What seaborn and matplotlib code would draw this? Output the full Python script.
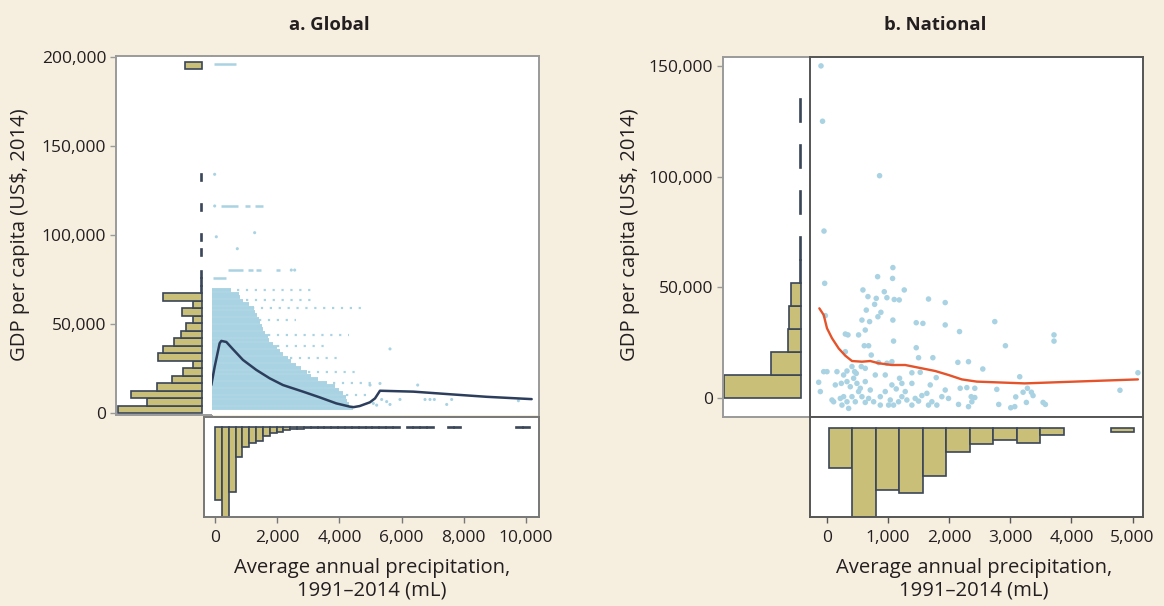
import numpy as np
import pandas as pd
import matplotlib
matplotlib.use("Agg")
import matplotlib.pyplot as plt
import seaborn as sns
from matplotlib.ticker import FuncFormatter, FixedLocator

# ------------------------------------------------------------------ data
# Panel a (global, grid cells)
a_fit_precip = [-118, -10, 150, 204, 365, 579, 900, 1329, 1758, 2186, 2830, 3365,
                3901, 4330, 4456, 4652, 4980, 5145, 5305, 6377, 7663, 8735, 10182]
a_fit_gdp_k = [15.7, 26.0, 39.2, 40.5, 39.9, 35.8, 29.8, 24.2, 19.5, 15.7, 12.0, 8.8,
               5.4, 3.6, 3.3, 3.9, 6.0, 8.2, 12.5, 12.0, 10.4, 9.1, 7.8]

# dense cloud of cells: one row per GDP level, extent of precipitation
a_cloud_gdp_k = [3, 5, 7, 9, 11, 13, 15, 17, 19, 21, 23, 25, 27, 29, 31, 33, 35,
                 37, 39, 41, 43, 45, 47, 49, 51, 53, 55, 57, 59, 61, 63, 65, 67, 69]
a_cloud_xmax = [4450, 4300, 4250, 4200, 4100, 4000, 3850, 3600, 3300, 3100, 2950,
                2750, 2600, 2450, 2350, 2200, 2100, 2000, 1850, 1750, 1700, 1600,
                1550, 1500, 1450, 1400, 1350, 1300, 1250, 1100, 900, 800, 770, 500]
a_cloud_xmin = -130

# short dense bands of cells with identical GDP
a_band_gdp_k = [196.0, 116.3, 116.3, 116.3, 80.3, 80.3, 80.3, 80.3, 75.6]
a_band_start = [-45, 200, 955, 1275, 420, 1060, 1330, 1950, -60]
a_band_end = [665, 740, 1115, 1540, 900, 1220, 1490, 2080, 360]

# sparse rows of cells
a_row_gdp_k = [69.0, 63.5, 59.0, 52.0, 44.0, 37.6, 30.7, 23.0, 16.7, 10.0]
a_row_start = [700, 1000, 1200, 1400, 1700, 2000, 2400, 3000, 3800, 4200]
a_row_end = [3100, 3100, 4870, 2600, 4300, 3500, 4100, 4500, 5100, 5000]

# isolated cells
a_pts_precip = [-11, -10, 43, 1275, 718, 2454, 2562, 4984, 5305, 5627, 6517, 5359,
                5520, 5627, 5948, 6753, 6913, 7053, 7450, 7610, 9755, 5091, 5198]
a_pts_gdp_k = [134.1, 116.3, 99.0, 101.3, 92.3, 80.3, 80.3, 15.7, 16.6, 36.0, 15.7,
               7.6, 6.4, 4.8, 7.6, 7.6, 7.6, 7.6, 4.8, 7.6, 6.9, 5.4, 4.4]

# marginal histograms, panel a
a_gdp_bin_width = 4200
a_gdp_counts = [84, 55, 71, 45, 30, 19, 9, 44, 39, 28, 21, 16, 9, 20, 9, 39,
                1.0, 0.8, 0.8, 0, 0, 0.8, 0, 0.8, 0, 0, 0, 0.8, 0, 0, 0, 0.8,
                0, 0, 0, 0, 0, 0, 0, 0, 0, 0, 0, 0, 0, 0, 17]
a_precip_bin_width = 220
a_precip_counts = [73, 92, 65, 30, 20, 16, 14, 9, 6, 5, 3, 2,
                   1.5, 1.2, 1.0, 1.0, 0.8, 0.8,
                   0.6, 0.6, 0.6, 0.6, 0.6, 0.6, 0.6, 0.6, 0.6, 0,
                   0.6, 0.6, 0.6, 0.6, 0, 0, 0.6, 0.6,
                   0, 0, 0, 0, 0, 0, 0, 0, 0.6, 0.6]

# Panel b (national)
b_precip = [1078, 828, 1073, -38, 588, 937, 1264, 670, 806, 980,
            1100, 1182, 1661, 779, 1934, 643, 882, 833, -27, 572,
            697, 1078, 1460, 1569, 1934, 300, 343, 517, 626, 2168,
            1089, 610, 681, 1460, 300, 724, 1498, 1732, 2141, 2315,
            1062, 980, 0, -54, 163, 327, 479, 561, 626, 844,
            953, 1389, 1525, 1187, 1787, -136, -109, 136, 234, 327,
            436, 490, 626, 708, 953, 1133, 1280, 1389, 1552, 1634,
            1689, 1879, 1988, 2179, 2288, 2359, 82, 218, 272, 327,
            409, 463, 626, 763, 872, 1008, 1089, 1171, 1307, 1389,
            1498, 1716, 1797, 2152, 2315, 2370, 354, 245, 109, 517,
            545, 572, 381, 452, 272, 681, 1035, 1225, 1443, 1661,
            1934, 409, 790, 1062, 1225, 872,
            2745, 2919, 3714, 3714, 2549, 3153, 5087, 4793, 2418, 2418,
            2778, 2810, 3006, 3072, 3088, 3208, 3279, 3344, 3371, 3262,
            3535, 3573, -98, -73, 860, -49]
b_gdp_k = [58.9, 54.8, 54.0, 51.8, 48.8, 48.0, 48.8, 45.8, 45.0, 45.3,
           44.5, 44.3, 44.7, 42.3, 43.1, 39.7, 38.7, 36.7, 37.2, 35.2,
           34.5, 35.2, 34.0, 33.7, 33.0, 28.9, 28.5, 28.5, 30.7, 30.0,
           25.7, 23.6, 23.6, 22.7, 20.9, 19.4, 18.2, 18.2, 16.1, 16.4,
           16.4, 15.7, 11.9, 11.9, 11.9, 12.2, 11.1, 14.2, 13.4, 16.0,
           10.4, 11.4, 11.6, 8.9, 9.2, 7.1, 2.9, 5.9, 6.6, 7.4,
           8.9, 6.6, 7.4, 3.6, 2.9, 4.1, 2.9, 6.6, 1.1, 2.1,
           5.9, 0.6, -0.2, 4.4, 4.7, 0.6, -0.9, -0.2, 0.6, -1.7,
           0.6, -1.7, -2.0, -1.7, -3.2, -3.2, -3.2, -1.7, -0.9, -3.2,
           -1.4, -1.7, -3.2, -2.9, -3.9, -1.7, -4.7, -3.2, -1.7, 2.9,
           4.4, 0.6, 5.1, 11.9, 10.4, -0.2, -0.9, 0.6, -0.2, -3.2,
           3.6, 14.2, 10.4, 5.9, 6.6, 0.6,
           34.5, 23.6, 28.5, 25.7, 13.1, 9.6, 11.4, 3.5, 4.4, 0.2,
           3.9, -2.9, -4.4, -3.9, 0.5, 2.6, 4.4, 2.6, 1.1, -2.0,
           -2.0, -2.9, 150.0, 125.0, 100.4, 75.4]
b_fit_precip = [-125, -54, 0, 82, 191, 300, 409, 572, 708, 844, 1062, 1280, 1498,
                1770, 1988, 2206, 2451, 3235, 4052, 5087]
b_fit_gdp_k = [40.5, 37.5, 31.5, 27.0, 22.4, 19.1, 16.7, 16.4, 16.7, 15.7, 14.9,
               14.9, 13.7, 12.2, 10.4, 8.4, 7.4, 6.6, 7.4, 8.4]

b_precip_bin_start, b_precip_bin_width = 33, 384
b_precip_counts = [40, 89, 62, 65, 48, 24, 16, 12, 15, 7, 0, 0, 4]
b_gdp_bin_width = 10400
b_gdp_counts = [77, 30, 13, 12, 10, 1.5, 0.8, 0, 0.8, 0, 0.8, 0, 0.8]

a_yticks = [0, 50000, 100000, 150000, 200000]
a_xticks = [0, 2000, 4000, 6000, 8000, 10000]
b_yticks = [0, 50000, 100000, 150000]
b_xticks = [0, 1000, 2000, 3000, 4000, 5000]

title_a, title_b = "a. Global", "b. National"
ylabel = "GDP per capita (US$, 2014)"
xlabel = "Average annual precipitation,\n1991\u20132014 (mL)"

# ------------------------------------------------------------------ style
sns.set_theme(style="white")
plt.rcParams["font.family"] = ["Open Sans", "DejaVu Sans"]

BG = "#F6EFE0"
DOT = "#A9D3E3"
BAR = "#C9BF79"
EDGE = "#3B4658"
NAVY = "#2C3E5C"
RED = "#E5532B"
TXT = "#231F20"
GRAY = "#9A9A9A"
DARK = "#555555"
FS = 12.5
LFS = 14.6

W, H = 1164, 606
fig = plt.figure(figsize=(W / 100, H / 100), dpi=100, facecolor=BG)


def add_ax(x0, y0, x1, y1):
    ax = fig.add_axes([x0 / W, 1 - y1 / H, (x1 - x0) / W, (y1 - y0) / H])
    ax.set_facecolor("white")
    ax.set_xticks([])
    ax.set_yticks([])
    return ax


def style_spines(ax, show, color, lw=1.4):
    for side in ["left", "right", "top", "bottom"]:
        sp = ax.spines[side]
        sp.set_visible(side in show)
        sp.set_color(color)
        sp.set_linewidth(lw)


fmt = FuncFormatter(lambda v, p: f"{v:,.0f}")


def hbars(ax, lo, width, counts):
    lo = np.asarray(lo, float)
    c = np.asarray(counts, float)
    m = c > 0
    ax.barh(lo[m], c[m], height=width, align="edge", color=BAR,
            edgecolor=EDGE, linewidth=1.2)


def vbars(ax, lo, width, counts):
    lo = np.asarray(lo, float)
    c = np.asarray(counts, float)
    m = c > 0
    ax.bar(lo[m], c[m], width=width, align="edge", color=BAR,
           edgecolor=EDGE, linewidth=1.2)


def yaxis_ticks(ax, ticks, color):
    ax.yaxis.set_major_locator(FixedLocator(ticks))
    ax.yaxis.set_major_formatter(fmt)
    ax.tick_params(axis="y", left=True, direction="out", length=4, width=1,
                   color=color, labelsize=FS, labelcolor=TXT, pad=3)


def xaxis_ticks(ax, ticks, color):
    ax.xaxis.set_major_locator(FixedLocator(ticks))
    ax.xaxis.set_major_formatter(fmt)
    ax.tick_params(axis="x", bottom=True, direction="out", length=4, width=1,
                   color=color, labelsize=FS, labelcolor=TXT, pad=5)


# ------------------------------------------------------------------ panel a
a_ylim = (-1124, 200562)

lh_a = add_ax(116, 56, 212, 415)
hbars(lh_a, np.arange(len(a_gdp_counts)) * a_gdp_bin_width, a_gdp_bin_width, a_gdp_counts)
lh_a.set_xlim(86, -10)
lh_a.set_ylim(*a_ylim)
lh_a.set_xticks([])
yaxis_ticks(lh_a, a_yticks, GRAY)
style_spines(lh_a, ["left", "top", "bottom"], GRAY)

sc_a = add_ax(212, 56, 539, 415)
sc_a.hlines(np.asarray(a_cloud_gdp_k) * 1000, a_cloud_xmin, a_cloud_xmax,
            colors=DOT, linewidth=2.8, zorder=1)
sc_a.hlines(np.asarray(a_band_gdp_k) * 1000, a_band_start, a_band_end,
            colors=DOT, linewidth=1.8, zorder=1)
sc_a.hlines(np.asarray(a_row_gdp_k) * 1000, a_row_start, a_row_end,
            colors=DOT, linewidth=1.6, linestyles=(0, (1, 3)), zorder=1)
sns.scatterplot(x=a_pts_precip, y=np.asarray(a_pts_gdp_k) * 1000, ax=sc_a,
                s=5, color=DOT, edgecolor="none", linewidth=0, legend=False, zorder=2)
sns.lineplot(x=a_fit_precip, y=np.asarray(a_fit_gdp_k) * 1000, ax=sc_a,
             color=NAVY, linewidth=1.8, sort=False, estimator=None, zorder=3)
sc_a.set_xlim(-96, 10418)
sc_a.set_ylim(*a_ylim)
sc_a.set_xticks([])
sc_a.set_yticks([])
sc_a.set_xlabel("")
sc_a.set_ylabel("")
style_spines(sc_a, ["top", "right"], GRAY)

bh_a = add_ax(204, 417, 539, 517)
vbars(bh_a, np.arange(len(a_precip_counts)) * a_precip_bin_width, a_precip_bin_width, a_precip_counts)
bh_a.set_xlim(-354, 10418)
bh_a.set_ylim(90, -10)
bh_a.set_yticks([])
xaxis_ticks(bh_a, a_xticks, "#777777")
style_spines(bh_a, ["left", "right", "top", "bottom"], "#777777")

fig.text(329 / W, 1 - 25 / H, title_a, ha="center", va="center",
         fontsize=13.3, fontweight="bold", color=TXT)
fig.text(372 / W, 1 - 579 / H, xlabel, ha="center", va="center",
         fontsize=LFS, color=TXT, linespacing=1.2)
fig.text(20 / W, 1 - 235 / H, ylabel, ha="center", va="center",
         rotation=90, fontsize=LFS, color=TXT)

# ------------------------------------------------------------------ panel b
b_ylim = (-8582, 154020)

lh_b = add_ax(723, 57, 810, 417)
hbars(lh_b, np.arange(len(b_gdp_counts)) * b_gdp_bin_width, b_gdp_bin_width, b_gdp_counts)
lh_b.set_xlim(78, -9)
lh_b.set_ylim(*b_ylim)
lh_b.set_xticks([])
yaxis_ticks(lh_b, b_yticks, GRAY)
style_spines(lh_b, ["left", "top", "bottom"], GRAY)

sc_b = add_ax(810, 57, 1143, 417)
sns.scatterplot(x=b_precip, y=np.asarray(b_gdp_k) * 1000, ax=sc_b, s=16,
                color=DOT, edgecolor="none", linewidth=0, legend=False, zorder=2)
sns.lineplot(x=b_fit_precip, y=np.asarray(b_fit_gdp_k) * 1000, ax=sc_b,
             color=RED, linewidth=1.7, sort=False, estimator=None, zorder=3)
sc_b.set_xlim(-278, 5170)
sc_b.set_ylim(*b_ylim)
sc_b.set_xticks([])
sc_b.set_yticks([])
sc_b.set_xlabel("")
sc_b.set_ylabel("")
style_spines(sc_b, ["left", "right", "top", "bottom"], DARK)

bh_b = add_ax(810, 417, 1143, 517)
vbars(bh_b, b_precip_bin_start + np.arange(len(b_precip_counts)) * b_precip_bin_width,
      b_precip_bin_width, b_precip_counts)
bh_b.set_xlim(-278, 5170)
bh_b.set_ylim(89, -11)
bh_b.set_yticks([])
xaxis_ticks(bh_b, b_xticks, DARK)
style_spines(bh_b, ["left", "right", "top", "bottom"], DARK)

fig.text(935 / W, 1 - 25 / H, title_b, ha="center", va="center",
         fontsize=13.3, fontweight="bold", color=TXT)
fig.text(974 / W, 1 - 579 / H, xlabel, ha="center", va="center",
         fontsize=LFS, color=TXT, linespacing=1.2)
fig.text(630 / W, 1 - 235 / H, ylabel, ha="center", va="center",
         rotation=90, fontsize=LFS, color=TXT)

fig.savefig("out.png", dpi=100, facecolor=BG)
